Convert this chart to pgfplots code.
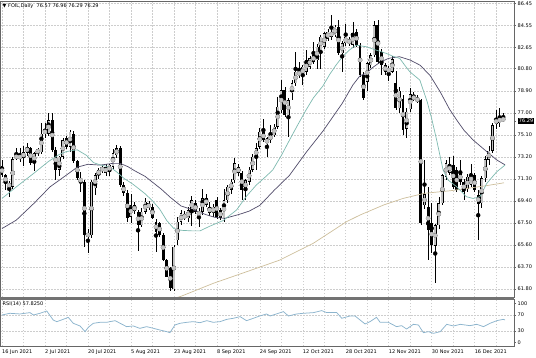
\documentclass[border=0pt]{standalone}
\usepackage{fontspec}
\setmainfont{DejaVu Sans}
\usepackage{pgfplots}
\usepackage{pgfplotstable}
\pgfplotsset{compat=1.18}
\pgfplotsset{/pgf/number format/assume math mode=true}
\definecolor{maFast}{RGB}{125,185,175}
\definecolor{maMid}{RGB}{80,75,105}
\definecolor{maSlow}{RGB}{205,190,155}
\definecolor{rsiC}{RGB}{140,180,205}
\definecolor{bullF}{RGB}{196,196,196}
\definecolor{gridC}{RGB}{205,205,205}

\pgfplotstableread{
i O H L C
0 72.40 72.92 71.45 71.62
1 71.60 71.75 70.30 70.90
2 70.95 71.10 69.75 70.55
3 70.60 73.20 70.40 73.00
4 73.05 73.95 72.90 73.35
5 73.25 73.95 72.75 73.10
6 73.10 74.10 72.40 73.60
7 73.55 74.40 73.30 74.05
8 73.95 74.00 72.50 72.65
9 72.65 73.60 71.95 73.50
10 73.50 73.95 73.30 73.85
11 73.60 76.10 73.40 75.20
12 75.20 76.10 74.80 75.50
13 75.20 76.95 75.00 76.35
14 76.35 76.95 73.60 73.80
15 73.80 74.00 71.20 72.06
16 72.06 73.30 71.50 73.20
17 73.20 74.80 73.00 74.65
18 74.80 75.00 73.90 74.07
19 74.07 75.50 73.60 75.37
20 75.20 75.40 72.70 72.80
21 72.80 72.90 71.20 71.33
22 71.30 71.90 70.20 71.05
23 71.05 71.20 65.40 66.44
24 66.60 67.00 64.90 66.30
25 66.44 71.20 66.20 71.05
26 70.47 71.80 69.90 71.62
27 71.62 72.20 71.30 72.06
28 72.06 72.50 71.80 72.20
29 72.34 72.60 71.50 71.77
30 71.90 72.60 71.50 72.50
31 72.34 73.90 72.10 73.50
32 73.35 74.20 73.10 73.93
33 73.93 74.10 70.60 70.76
34 70.76 71.00 69.80 70.04
35 70.04 70.30 67.60 67.88
36 68.00 70.00 67.50 69.00
37 69.00 69.30 68.30 68.50
38 68.40 68.60 65.10 67.30
39 67.30 68.80 67.10 68.45
40 68.45 69.60 68.30 69.30
41 69.20 69.40 68.60 68.75
42 68.90 69.10 67.80 67.90
43 67.60 67.80 65.00 66.70
44 67.45 67.60 66.30 66.44
45 66.44 66.60 64.20 64.28
46 64.28 64.40 62.80 62.85
47 63.56 63.70 61.60 61.84
48 61.75 65.60 61.60 65.43
49 66.00 68.00 65.60 67.59
50 67.59 68.60 67.30 68.31
51 67.95 68.50 67.70 68.15
52 67.88 68.90 67.60 68.60
53 68.60 69.80 67.20 69.46
54 69.18 69.50 68.30 68.46
55 68.46 68.80 67.16 68.17
56 68.46 70.40 68.20 69.61
57 69.61 70.00 68.90 69.03
58 68.90 69.30 68.10 68.31
59 68.31 69.10 68.00 68.89
60 69.46 69.70 67.80 68.00
61 68.60 68.80 67.70 67.88
62 67.88 70.40 67.60 69.46
63 69.46 70.80 69.20 70.62
64 70.33 71.30 70.00 71.05
65 71.19 73.10 70.90 72.63
66 72.34 72.60 71.50 71.77
67 71.77 72.00 69.50 70.33
68 70.33 71.30 69.50 71.19
69 71.05 72.30 70.80 72.06
70 72.06 73.40 71.90 73.21
71 73.20 74.35 72.05 73.92
72 74.07 75.65 73.90 75.36
73 75.36 76.50 74.50 74.64
74 74.30 74.90 73.20 74.80
75 74.64 75.90 74.40 75.07
76 75.07 76.00 74.90 75.79
77 75.80 78.40 75.60 77.52
78 77.23 79.80 77.00 78.96
79 78.96 79.20 76.60 76.80
80 76.80 78.30 74.93 78.10
81 78.67 79.80 78.10 79.53
82 79.53 82.27 79.30 80.54
83 80.25 81.40 80.00 80.54
84 80.25 81.10 79.40 80.97
85 80.54 82.40 80.30 81.55
86 80.97 81.90 80.80 81.70
87 81.98 83.10 81.20 81.40
88 81.55 82.90 80.80 82.70
89 82.41 83.70 80.80 83.56
90 82.70 84.00 82.50 83.85
91 83.40 84.20 83.20 84.00
92 84.00 85.40 83.30 83.56
93 83.70 84.60 83.50 84.43
94 84.43 85.00 82.00 82.12
95 82.12 83.20 80.54 83.00
96 83.00 84.70 82.80 83.56
97 83.28 83.50 82.80 83.00
98 82.85 84.86 82.60 83.85
99 84.00 84.20 82.70 82.85
100 82.85 83.00 80.10 80.25
101 80.25 80.50 78.10 78.24
102 79.68 81.40 78.90 81.26
103 81.10 82.20 80.90 81.98
104 81.98 84.90 81.80 84.57
105 84.57 85.00 81.20 81.40
106 82.27 82.50 80.25 81.10
107 81.10 81.30 80.30 80.54
108 80.80 81.00 79.70 80.55
109 80.55 81.90 80.40 81.60
110 79.60 80.60 77.20 77.40
111 77.40 79.20 77.00 78.90
112 78.20 78.50 75.10 75.50
113 75.60 77.40 74.80 77.10
114 77.30 79.10 77.10 78.60
115 78.50 78.80 78.00 78.10
116 78.30 78.50 77.80 77.95
117 78.10 78.20 67.30 67.50
118 69.00 72.90 68.70 69.95
119 68.90 70.60 64.30 66.87
120 67.45 69.20 64.85 65.58
121 65.50 67.40 62.30 67.30
122 67.30 69.70 67.00 69.20
123 69.17 71.70 69.00 71.62
124 71.48 72.92 71.20 72.63
125 71.80 73.20 71.60 72.60
126 72.48 73.30 70.40 70.61
127 72.05 72.30 70.20 70.33
128 71.90 72.90 70.80 71.00
129 71.04 71.30 69.50 70.18
130 70.40 71.70 70.20 71.48
131 70.80 72.60 70.60 71.77
132 71.60 71.80 70.20 70.33
133 69.90 70.30 66.00 69.10
134 69.17 71.50 68.80 71.33
135 71.33 73.30 71.00 73.00
136 72.92 74.10 72.50 73.70
137 73.70 76.10 73.50 75.94
138 76.00 77.20 75.60 76.50
139 76.10 77.40 75.80 76.65
140 76.57 76.96 76.29 76.29
}\candles

\pgfplotstableread{
x y
0 69.6
4 70.6
9 71.8
13 72.8
16 73.4
18 73.65
21 73.8
23.7 73.3
25.5 72.7
27.4 72.5
30.2 72.3
32 71.9
34 71.35
36.7 70.8
40 70.0
42 69.4
44 68.7
46 67.7
48 67.0
50 66.85
53 66.8
55.3 66.8
58 67.2
61.8 67.7
65.5 68.6
68.3 69.8
71 70.75
73 71.3
75.6 72.05
78 73.3
80.3 74.64
82.5 75.9
84.9 77.23
87 78.3
89.6 79.3
91.5 80.3
93.3 81.12
95 81.8
97 82.41
98.9 82.84
101.7 82.7
104.5 82.41
107.4 82.12
109 81.9
111.1 81.69
112.5 81.1
113.9 80.54
116.7 79.82
118.8 77.9
120 76.5
121.4 74.64
123.2 72.05
124.6 71.19
127 70.61
129.7 69.75
131.6 69.6
133.5 69.75
135.4 70.9
138.2 71.91
140.5 72.48
}\maFastT

\pgfplotstableread{
x y
0 67.0
4 67.73
9 69.2
13.4 70.6
18 71.62
21 72.3
24 72.55
27.4 72.48
31 72.63
33 72.63
35.2 72.34
37 72.0
40 71.5
44.5 70.4
47 69.7
50 68.95
54 68.55
57 68.2
59.4 67.97
62.2 67.88
66 68.2
69 68.5
72 69.0
76 70.3
80.3 71.6
85 73.6
89.6 75.4
95 77.8
98 79.4
100 80.2
101.7 80.4
103.5 80.9
105.5 81.35
108 81.7
111 81.84
114 81.55
116.8 81.1
119.6 80.2
122.4 78.8
125 77.3
127 76.37
129 75.5
131.6 74.64
135.4 73.64
138.2 72.92
140.5 72.5
}\maMidT

\pgfplotstableread{
x y
45 60.7
50 61.15
59 62.27
68.3 63.27
77.6 64.28
86.9 65.72
96.2 67.59
100 68.17
106.7 69.05
112 69.6
117.9 70.04
125.3 70.27
134.6 70.67
140.2 70.95
}\maSlowT

\pgfplotstableread{
x y
0 70.3
2.2 74.6
5 72.9
7.8 76.3
8.8 70.3
10.6 74.6
12.5 80.5
14.3 57.6
15.3 53.3
17.1 59.3
18.5 64.4
19.9 49.2
21.8 42.4
23.2 28
24.1 39
25.5 49.2
27.4 51.7
29.2 51.7
31.6 55.9
33 49.2
34.8 40.7
36.7 42.4
38.5 36.4
40.4 40.7
42.3 36.4
44.1 32.2
46 28
46.9 25.4
48.3 44.9
49.7 49.2
51.6 51.7
53.4 53.4
55.3 50.8
57.2 55.9
59 51.7
60.9 53.4
62.8 59.3
64.6 61.9
66.5 66.1
68.3 55.9
70.2 61.9
72 67.8
73.9 72.9
74.9 67.8
78.6 78.8
80 67.8
82.3 72.9
84.2 74.6
87 76.3
89.3 81.4
90.7 76.3
93.5 76.3
94.9 61.9
97.2 67.8
98.6 67.8
101.4 47.5
102.8 53.4
104.6 64.4
105.6 51.7
107.9 51.7
110.2 40.7
111.6 43.2
113 34.7
114.9 46.6
116.3 44.9
117.7 25.4
119.1 28
120.5 23.7
122.4 28
124.2 46.6
126.1 42.4
128 46.6
130.7 43.2
132.6 46.6
134.5 40.7
136.3 49.2
138.2 55.9
140 59.3
140.5 57.8
}\rsiT

\begin{document}
\begin{tikzpicture}[font=\fontsize{5}{6}\selectfont]
\useasboundingbox (0,0) rectangle (536pt,357pt);
\pgfplotsset{
  every tick label/.append style={font=\fontsize{5}{6}\selectfont, text=black},
  major grid style={gridC, dash pattern=on 1.5pt off 1.5pt, line width=0.5pt},
}
\begin{axis}[
  at={(0pt,60pt)}, anchor=south west, scale only axis,
  width=514pt, height=296pt,
  xmin=-0.56, xmax=143, ymin=61.09, ymax=86.65,
  axis line style={black!60, line width=0.6pt},
  xtick={0,6,...,138}, xticklabels={}, xtick style={draw=none},
  ytick={61.8,63.7,65.6,67.5,69.4,71.3,73.2,75.1,77.0,78.9,80.8,82.65,84.55,86.45},
  ytick pos=right, yticklabel pos=right,
  yticklabel style={anchor=west, inner sep=0pt, xshift=1.5pt,
    /pgf/number format/fixed, /pgf/number format/fixed zerofill, /pgf/number format/precision=2},
  extra y ticks={76.29},
  extra y tick style={grid=none, yticklabel style={fill=black, text=white, inner sep=0.7pt, xshift=0.5pt}},
  tick align=outside, major tick length=2pt, ytick style={black!60, line width=0.5pt},
  xmajorgrids, ymajorgrids,
]
\addplot[color=black, only marks, mark=none, error bars/.cd, y dir=both, y explicit, error mark=none,
  error bar style={color=black, line width=0.6pt}]
  table[x=i, y expr={(\thisrow{H}+\thisrow{L})/2}, y error expr={(\thisrow{H}-\thisrow{L})/2}] {\candles};
\addplot[color=black, only marks, mark=none, error bars/.cd, y dir=both, y explicit, error mark=none,
  error bar style={color=black, line width=2.9pt}]
  table[x=i, y expr={(\thisrow{O}+\thisrow{C})/2}, y error expr={max(abs(\thisrow{C}-\thisrow{O})/2,0.04)}] {\candles};
\addplot[color=bullF, only marks, mark=none, error bars/.cd, y dir=both, y explicit, error mark=none,
  error bar style={color=bullF, line width=1.9pt}]
  table[x=i, y expr={(\thisrow{O}+\thisrow{C})/2}, y error expr={max(0.5*(\thisrow{C}-\thisrow{O})-0.045,0)}] {\candles};
\addplot[maSlow, line width=0.7pt] table[x=x, y=y] {\maSlowT};
\addplot[maMid, line width=0.7pt] table[x=x, y=y] {\maMidT};
\addplot[maFast, line width=0.7pt] table[x=x, y=y] {\maFastT};
\end{axis}

\begin{axis}[
  at={(0pt,11pt)}, anchor=south west, scale only axis,
  width=514pt, height=46.5pt,
  xmin=-0.56, xmax=143, ymin=-8.4, ymax=109.6,
  axis line style={black!60, line width=0.6pt},
  xtick={0,6,...,138},
  xticklabels={16 Jun 2021,,2 Jul 2021,,20 Jul 2021,,5 Aug 2021,,23 Aug 2021,,8 Sep 2021,,24 Sep 2021,,12 Oct 2021,,28 Oct 2021,,12 Nov 2021,,30 Nov 2021,,16 Dec 2021,,},
  xtick style={draw=none},
  xticklabel style={anchor=north west, inner sep=0pt, yshift=-1.5pt},
  ytick={30,70}, extra y ticks={0,100}, extra y tick style={grid=none},
  ytick pos=right, yticklabel pos=right,
  yticklabel style={anchor=west, inner sep=0pt, xshift=1.5pt},
  tick align=outside, major tick length=2pt, ytick style={black!60, line width=0.5pt},
  xmajorgrids, ymajorgrids,
]
\addplot[rsiC, line width=0.75pt] table[x=x, y=y] {\rsiT};
\end{axis}

\fill[black!55] (0pt,57.4pt) rectangle (514pt,60pt);
\node[anchor=west, inner sep=0pt] at (2.5pt,351.3pt) {▼\ FOIL,Daily\ \ 76.57 76.96 76.29 76.29};
\node[anchor=west, inner sep=0pt] at (2.5pt,52.6pt) {RSI(14) 57.8250};
\end{tikzpicture}
\end{document}
